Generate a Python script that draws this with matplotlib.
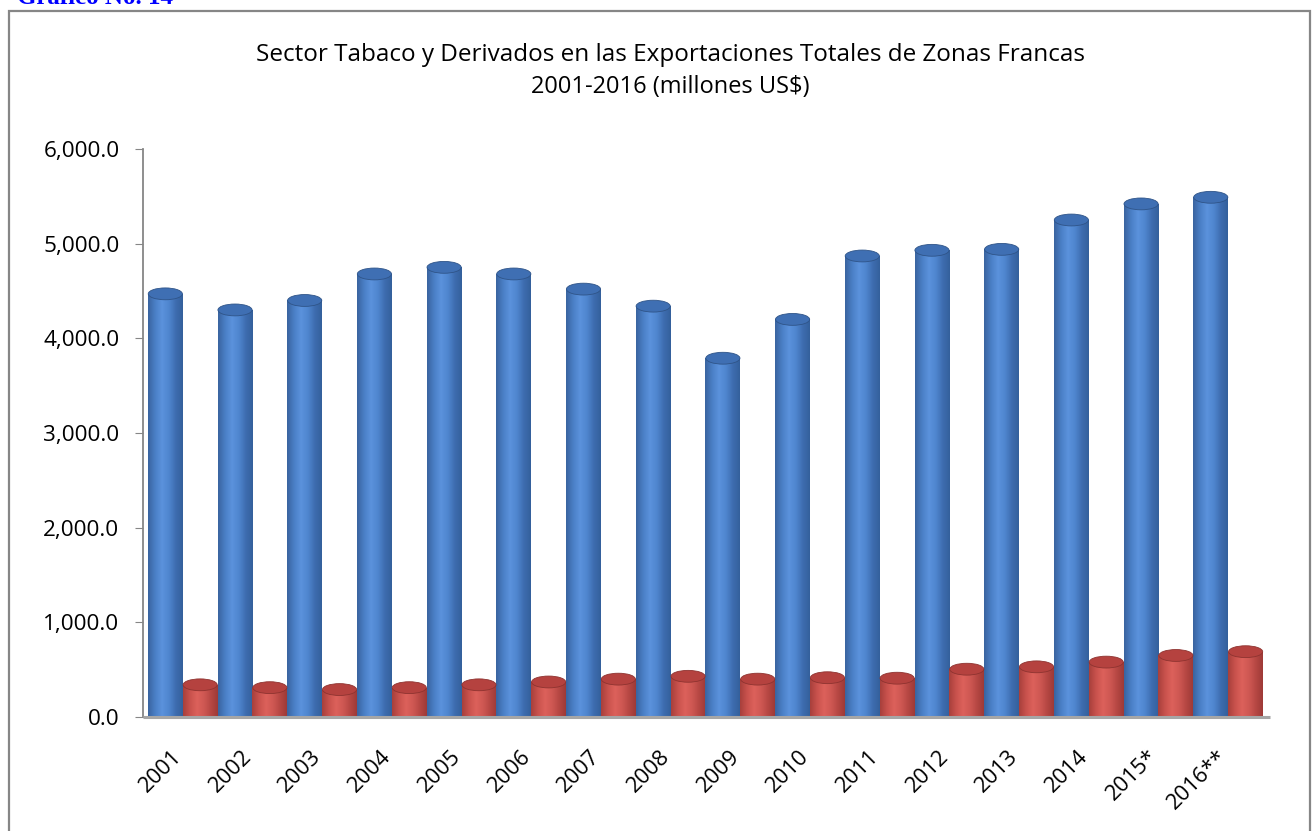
import numpy as np
import matplotlib
matplotlib.use("Agg")
import matplotlib.pyplot as plt
from matplotlib.patches import Rectangle, Ellipse
from matplotlib.colors import LinearSegmentedColormap
import matplotlib.transforms as mtransforms

# data (millones US$)
years = ["2001", "2002", "2003", "2004", "2005", "2006", "2007", "2008",
         "2009", "2010", "2011", "2012", "2013", "2014", "2015*", "2016**"]
total_exports = [4470, 4300, 4400, 4680, 4750, 4680, 4520, 4340,
                 3790, 4200, 4870, 4930, 4940, 5250, 5420, 5490]
tabaco = [340, 310, 290, 310, 340, 370, 400, 430,
          400, 415, 410, 505, 530, 580, 650, 690]

plt.rcParams['font.family'] = ['Open Sans', 'DejaVu Sans']

fig = plt.figure(figsize=(13.12, 8.31), dpi=100)
ax = fig.add_axes([143 / 1312, 1 - 717 / 831, (1270 - 143) / 1312, (717 - 149) / 831])

blue_cmap = LinearSegmentedColormap.from_list(
    "blue_cyl", ["#3a64a0", "#4a7fc6", "#5b92dc", "#4f86cf", "#3e6db0", "#34609c"])
red_cmap = LinearSegmentedColormap.from_list(
    "red_cyl", ["#a8403c", "#c9524d", "#dc615b", "#cf5853", "#b74844", "#9e3a37"])
grad = np.linspace(0, 1, 64).reshape(1, -1)

width = 0.5
cap_h = 125  # height of the top ellipse, in data units


def cylinder(x0, h, cmap, top_color, edge):
    body = Rectangle((x0, 0), width, h, transform=ax.transData)
    img = ax.imshow(grad, cmap=cmap, extent=[x0, x0 + width, 0, h],
                    aspect='auto', origin='lower', zorder=2, interpolation='bilinear')
    img.set_clip_path(body)
    ax.add_patch(Ellipse((x0 + width / 2, 0), width, cap_h * 0.6,
                         facecolor=cmap(0.55), edgecolor='none', zorder=1.9))
    ax.add_patch(Ellipse((x0 + width / 2, h), width * 0.98, cap_h,
                         facecolor=top_color, edgecolor=edge,
                         linewidth=0.6, zorder=3, clip_on=False))


x = np.arange(len(years))
for i in x:
    cylinder(i - width, total_exports[i], blue_cmap, '#3f6fb3', '#2f5488')
    cylinder(i, tabaco[i], red_cmap, '#b5423f', '#8e3330')

ax.set_xlim(-0.57, 15.6)
ax.set_ylim(0, 6000)

# floor line
ax.plot([-0.57, 15.6], [0, 0], color='#a6a6a6', lw=2.2, zorder=4, clip_on=False,
        solid_capstyle='butt')

for side in ['top', 'right', 'bottom']:
    ax.spines[side].set_visible(False)
ax.spines['left'].set_color('#868686')
ax.spines['left'].set_linewidth(1.3)

ax.set_yticks(np.arange(0, 6001, 1000))
ax.set_yticklabels([f"{v:,.1f}" for v in np.arange(0, 6001, 1000)], fontsize=16.2)
ax.tick_params(axis='y', direction='out', length=6, color='#868686', pad=11)

ax.set_xticks(x)
ax.set_xticklabels(years, rotation=45, ha='right', va='center',
                   rotation_mode='anchor', fontsize=15.8)
ax.tick_params(axis='x', length=0, pad=26)
offset = mtransforms.ScaledTranslation(-4 / 100, 0, fig.dpi_scale_trans)
for lab in ax.get_xticklabels():
    lab.set_transform(lab.get_transform() + offset)

fig.text(0.511, 1 - 55 / 831,
         "Sector Tabaco y Derivados en las Exportaciones Totales de Zonas Francas",
         ha='center', va='center', fontsize=17.5)
fig.text(0.511, 1 - 87 / 831, "2001-2016 (millones US$)",
         ha='center', va='center', fontsize=17.0)

# chart frame and caption above it (caption is cut by the top edge, as in the source)
fig.patches.append(Rectangle((9 / 1312, -0.01), (1310 - 9) / 1312, 1 - 11 / 831 + 0.01,
                             transform=fig.transFigure, fill=False,
                             edgecolor='#868686', linewidth=1.6))
fig.text(17 / 1312, 1 - 4 / 831, "Gráfico No. 14", ha='left', va='baseline',
         fontsize=18, fontweight='bold', color='#0000ff', family='Liberation Serif')

fig.savefig("out.png", dpi=100)
